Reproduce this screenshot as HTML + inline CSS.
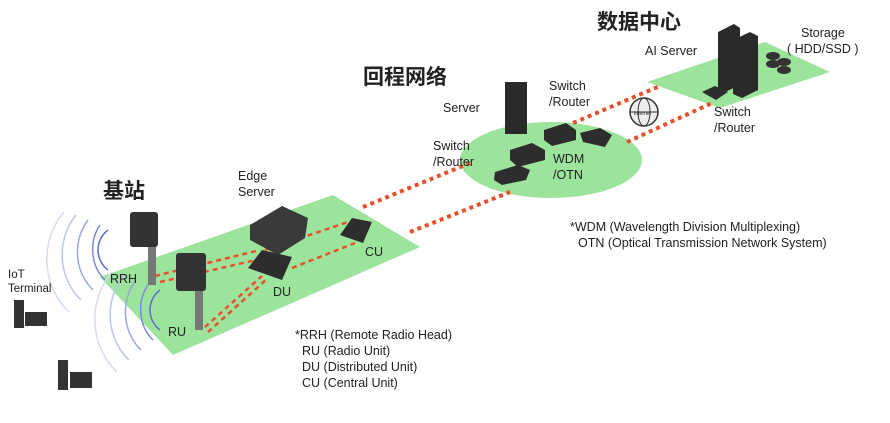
<!DOCTYPE html>
<html><head><meta charset="utf-8"><style>
body{margin:0;background:#fff;}
svg text{font-family:"Liberation Sans","Noto Sans CJK SC",sans-serif;fill:#222;font-size:12.5px;}
.cj{font-size:21px;font-weight:bold;}
</style></head><body>
<svg width="890" height="418" viewBox="0 0 890 418" xmlns="http://www.w3.org/2000/svg">
<defs>
<radialGradient id="g" cx="0.5" cy="0.5" r="0.5"><stop offset="0" stop-color="#8ee08e"/><stop offset="1" stop-color="#a5e7a5"/></radialGradient>
</defs>
<!-- green areas -->
<polygon points="100,277 333,195 420,247 173,355" fill="#9ce39c"/>
<ellipse cx="551" cy="160" rx="91" ry="38" fill="#9ce39c"/>
<polygon points="647,82 765,42 830,72 720,108" fill="#9ce39c"/>
<!-- long dotted lines -->
<g stroke="#e8502a" stroke-width="4" stroke-dasharray="4,4" fill="none">
<line x1="363" y1="207" x2="470" y2="163"/>
<line x1="410" y1="232" x2="510" y2="192"/>
<line x1="573" y1="123" x2="660" y2="86"/>
<line x1="627" y1="142" x2="712" y2="103"/>
</g>
<!-- short dashed lines in edge -->
<g stroke="#e8502a" stroke-width="2.5" stroke-dasharray="5,4" fill="none">
<line x1="155" y1="276" x2="260" y2="250"/>
<line x1="160" y1="282" x2="265" y2="258"/>
<line x1="265" y1="250" x2="348" y2="222"/>
<line x1="292" y1="268" x2="355" y2="243"/>
<line x1="205" y1="327" x2="262" y2="276"/>
<line x1="208" y1="332" x2="268" y2="278"/>
</g>
<!-- wave arcs -->
<g fill="none" stroke-width="1.5">
<path d="M118,230 a25,25 0 0 0 0,40" stroke="#5a6fd0" transform="translate(-10,0)"/>
<path d="M100,225 a35,40 0 0 0 5,55" stroke="#7a8ae0"/>
<path d="M88,220 a45,50 0 0 0 5,70" stroke="#9aa6e8"/>
<path d="M76,215 a55,60 0 0 0 5,85" stroke="#bcc4ef"/>
<path d="M64,212 a65,70 0 0 0 5,100" stroke="#d6dbf5"/>
<path d="M160,290 a25,25 0 0 0 0,40" stroke="#5a6fd0"/>
<path d="M148,285 a35,40 0 0 0 5,55" stroke="#7a8ae0"/>
<path d="M136,280 a45,50 0 0 0 5,70" stroke="#9aa6e8"/>
<path d="M124,275 a55,60 0 0 0 5,85" stroke="#bcc4ef"/>
<path d="M112,272 a65,70 0 0 0 5,100" stroke="#d6dbf5"/>
</g>
<!-- towers -->
<rect x="148" y="240" width="8" height="45" fill="#777"/>
<rect x="130" y="212" width="28" height="35" fill="#333" rx="3"/>
<rect x="195" y="285" width="8" height="45" fill="#777"/>
<rect x="176" y="253" width="30" height="38" fill="#333" rx="3"/>
<!-- edge devices -->
<polygon points="250,225 282,206 308,218 305,238 278,255 250,240" fill="#3a3a3a"/>
<polygon points="248,268 262,250 292,257 282,280" fill="#2d2d2d"/>
<polygon points="340,235 352,218 372,222 363,243" fill="#2d2d2d"/>
<!-- iot -->
<rect x="14" y="300" width="10" height="28" fill="#333"/><rect x="25" y="312" width="22" height="14" fill="#333"/>
<rect x="58" y="360" width="10" height="30" fill="#333"/><rect x="70" y="372" width="22" height="16" fill="#333"/>
<!-- backhaul devices -->
<rect x="505" y="82" width="22" height="52" fill="#2a2a2a"/>
<polygon points="544,130 566,123 576,130 576,140 552,146 544,140" fill="#2d2d2d"/>
<polygon points="510,150 532,143 545,150 545,160 518,167 510,160" fill="#2d2d2d"/>
<polygon points="495,172 518,165 530,170 526,180 502,185 494,180" fill="#2d2d2d"/>
<polygon points="580,133 600,128 612,135 605,147 583,142" fill="#2d2d2d"/>
<!-- globe -->
<circle cx="644" cy="112" r="14" fill="#eee" stroke="#333" stroke-width="1.5"/>
<ellipse cx="644" cy="112" rx="6" ry="14" fill="none" stroke="#333"/>
<line x1="630" y1="112" x2="658" y2="112" stroke="#333"/>
<text x="634" y="115" style="font-size:5px">Internet</text>
<!-- DC devices -->
<polygon points="718,32 734,24 740,28 740,85 725,92 718,88" fill="#2a2a2a"/>
<polygon points="733,40 750,32 758,36 758,90 742,98 733,94" fill="#2a2a2a"/>
<polygon points="702,92 715,86 728,92 716,100" fill="#2d2d2d"/>
<ellipse cx="773" cy="56" rx="7" ry="4" fill="#333"/><ellipse cx="773" cy="64" rx="7" ry="4" fill="#333"/>
<ellipse cx="784" cy="62" rx="7" ry="4" fill="#333"/><ellipse cx="784" cy="70" rx="7" ry="4" fill="#333"/>
<!-- labels -->
<text class="cj" x="103" y="198">基站</text>
<text class="cj" x="363" y="84">回程网络</text>
<text class="cj" x="597" y="29">数据中心</text>
<text x="238" y="180">Edge</text><text x="238" y="196">Server</text>
<text x="365" y="256">CU</text>
<text x="273" y="296">DU</text>
<text x="110" y="283">RRH</text>
<text x="168" y="336">RU</text>
<text x="8" y="278" style="font-size:11.5px">IoT</text><text x="8" y="292" style="font-size:11.5px">Terminal</text>
<text x="295" y="339">*RRH (Remote Radio Head)</text>
<text x="302" y="355">RU (Radio Unit)</text>
<text x="302" y="371">DU (Distributed Unit)</text>
<text x="302" y="387">CU (Central Unit)</text>
<text x="443" y="112">Server</text>
<text x="549" y="90">Switch</text><text x="549" y="106">/Router</text>
<text x="433" y="150">Switch</text><text x="433" y="166">/Router</text>
<text x="553" y="163">WDM</text><text x="553" y="179">/OTN</text>
<text x="645" y="55">AI Server</text>
<text x="801" y="37">Storage</text><text x="787" y="53">( HDD/SSD )</text>
<text x="714" y="116">Switch</text><text x="714" y="132">/Router</text>
<text x="570" y="231">*WDM (Wavelength Division Multiplexing)</text>
<text x="578" y="247">OTN (Optical Transmission Network System)</text>
</svg>
</body></html>
